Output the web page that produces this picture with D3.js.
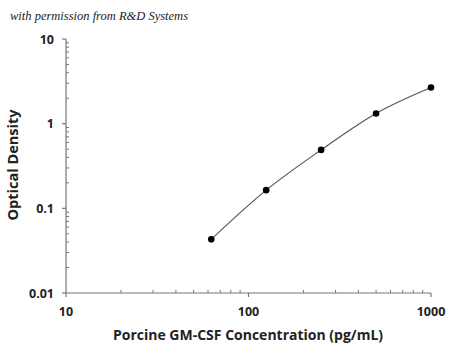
<!DOCTYPE html>
<html><head><meta charset="utf-8">
<script src="https://cdn.jsdelivr.net/npm/d3@7"></script>
<style>body{margin:0;background:#fff}svg{display:block}</style>
</head><body>
<svg id="c" width="450" height="348"></svg>
<script>
const concentrations = [62.5, 125, 250, 500, 1000];
const opticalDensity = [0.043, 0.164, 0.49, 1.32, 2.67];
const xTicks = [10, 100, 1000];
const yTicks = [0.01, 0.1, 1, 10];
const xTickLabels = ["10", "100", "1000"];
const yTickLabels = ["0.01", "0.1", "1", "10"];
const note = "with permission from R&D Systems";
const xTitle = "Porcine GM-CSF Concentration (pg/mL)";
const yTitle = "Optical Density";

const svg = d3.select("#c");
const x = d3.scaleLog().domain([10, 1000]).range([66, 431]);
const y = d3.scaleLog().domain([0.01, 10]).range([293, 39]);
const axisColor = "#777";
const font = "'Open Sans', sans-serif";

svg.append("text").attr("x", 10).attr("y", 20).text(note)
  .attr("font-family", "'Liberation Serif', serif").attr("font-style", "italic")
  .attr("font-size", 12.5).attr("fill", "#222");

function minorTicks(lo, hi) {
  const out = [];
  for (let d = lo; d < hi; d *= 10) for (let k = 2; k <= 9; k++) out.push(d * k);
  return out;
}

// X axis
const gx = svg.append("g").attr("transform", "translate(0,293)");
gx.append("line").attr("x1", 66).attr("x2", 431).attr("stroke", axisColor).attr("stroke-width", 1.2);
gx.selectAll(".maj").data(xTicks).join("line")
  .attr("x1", d => x(d)).attr("x2", d => x(d)).attr("y1", 0).attr("y2", 4)
  .attr("stroke", axisColor).attr("stroke-width", 1.2);
gx.selectAll(".min").data(minorTicks(10, 1000)).join("line")
  .attr("x1", d => x(d)).attr("x2", d => x(d)).attr("y1", 0).attr("y2", -3)
  .attr("stroke", axisColor).attr("stroke-width", 1);
gx.selectAll("text").data(xTicks).join("text")
  .attr("x", d => x(d)).attr("y", 23).attr("text-anchor", "middle")
  .attr("font-family", font).attr("font-weight", "bold").attr("font-size", 12.5).attr("fill", "#222")
  .text((d, i) => xTickLabels[i]);

// Y axis
const gy = svg.append("g").attr("transform", "translate(66,0)");
gy.append("line").attr("y1", 39).attr("y2", 293).attr("stroke", axisColor).attr("stroke-width", 1.2);
gy.selectAll(".maj").data(yTicks).join("line")
  .attr("y1", d => y(d)).attr("y2", d => y(d)).attr("x1", 0).attr("x2", -4)
  .attr("stroke", axisColor).attr("stroke-width", 1.2);
gy.selectAll(".min").data(minorTicks(0.01, 10)).join("line")
  .attr("y1", d => y(d)).attr("y2", d => y(d)).attr("x1", 0).attr("x2", 3)
  .attr("stroke", axisColor).attr("stroke-width", 1);
gy.selectAll("text").data(yTicks).join("text")
  .attr("x", -12).attr("y", d => y(d) + 4.5).attr("text-anchor", "end")
  .attr("font-family", font).attr("font-weight", "bold").attr("font-size", 12.5).attr("fill", "#222")
  .text((d, i) => yTickLabels[i]);

// Titles
svg.append("text").attr("x", 248).attr("y", 340).attr("text-anchor", "middle")
  .attr("font-family", font).attr("font-weight", "bold").attr("font-size", 14).attr("fill", "#222")
  .text(xTitle);
svg.append("text").attr("transform", "translate(18,165) rotate(-90)").attr("text-anchor", "middle")
  .attr("font-family", font).attr("font-weight", "bold").attr("font-size", 14.5).attr("fill", "#222")
  .text(yTitle);

// Curve and points
const data = concentrations.map((c, i) => ({c, od: opticalDensity[i]}));
svg.append("path").datum(data)
  .attr("d", d3.line().x(d => x(d.c)).y(d => y(d.od)).curve(d3.curveNatural))
  .attr("fill", "none").attr("stroke", "#555").attr("stroke-width", 1.2);
svg.selectAll("circle").data(data).join("circle")
  .attr("cx", d => x(d.c)).attr("cy", d => y(d.od)).attr("r", 3.3).attr("fill", "#000");
</script>
</body></html>
